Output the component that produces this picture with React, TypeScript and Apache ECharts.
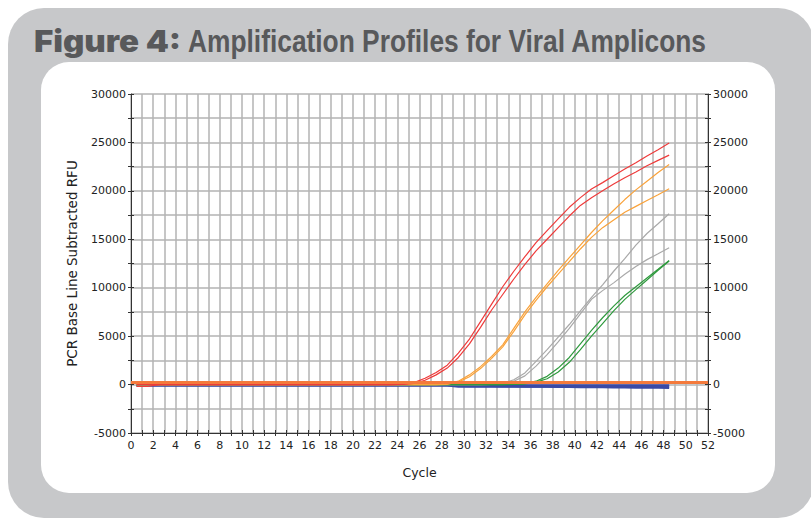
import React, { useEffect, useRef } from "react";
import * as echarts from "echarts";

// x positions of the readings (cycles)
const CYCLES = [
  0.5, 1.5, 2.5, 3.5, 4.5, 5.5, 6.5, 7.5, 8.5, 9.5,
  10.5, 11.5, 12.5, 13.5, 14.5, 15.5, 16.5, 17.5, 18.5, 19.5,
  20.5, 21.5, 22.5, 23.5, 24.5, 25.5, 26.5, 27.5, 28.5, 29.5,
  30.5, 31.5, 32.5, 33.5, 34.5, 35.5, 36.5, 37.5, 38.5, 39.5,
  40.5, 41.5, 42.5, 43.5, 44.5, 45.5, 46.5, 47.5, 48.5,
];

const RED_A = [
  -200, -200, 0, 0, 0, 0, 0, 0, 0, 0,
  0, 0, 0, 0, 0, 0, 0, 0, 0, 0,
  0, 0, 0, 0, 40, 200, 650, 1250, 2000, 3250,
  4700, 6500, 8300, 10100, 11700, 13200, 14650, 15900, 17100, 18300,
  19300, 20200, 20850, 21550, 22250, 22900, 23600, 24250, 24930,
];
const RED_B = [
  0, 0, 0, 0, 0, 0, 0, 0, 0, 0,
  0, 0, 0, 0, 0, 0, 0, 0, 0, 0,
  0, 0, 0, 0, 20, 120, 450, 1000, 1700, 2800,
  4200, 5900, 7700, 9300, 10900, 12400, 13800, 15000, 16200, 17400,
  18500, 19300, 20000, 20700, 21350, 21950, 22600, 23150, 23690,
];
const ORANGE_A = [
  0, 0, 0, 0, 0, 0, 0, 0, 0, 0,
  0, 0, 0, 0, 0, 0, 0, 0, 0, 0,
  0, 0, 0, 0, 0, 0, 0, 0, 50, 350,
  1000, 1850, 2900, 4100, 5800, 7500, 9000, 10400, 11800, 13100,
  14400, 15700, 16900, 18000, 19100, 20100, 21000, 21900, 22730,
];
const ORANGE_B = [
  0, 0, 0, 0, 0, 0, 0, 0, 0, 0,
  0, 0, 0, 0, 0, 0, 0, 0, 0, 0,
  0, 0, 0, 0, 0, 0, 0, 0, 30, 250,
  800, 1650, 2700, 3900, 5500, 7200, 8700, 10100, 11400, 12700,
  14000, 15200, 16200, 17000, 17800, 18400, 19000, 19600, 20220,
];
const GRAY_A = [
  0, 0, 0, 0, 0, 0, 0, 0, 0, 0,
  0, 0, 0, 0, 0, 0, 0, 0, 0, 0,
  0, 0, 0, 0, 0, 0, 0, 0, 0, 0,
  0, 0, 30, 150, 500, 1200, 2400, 3600, 4900, 6200,
  7600, 9000, 10300, 11700, 13000, 14400, 15600, 16600, 17630,
];
const GRAY_B = [
  0, 0, 0, 0, 0, 0, 0, 0, 0, 0,
  0, 0, 0, 0, 0, 0, 0, 0, 0, 0,
  0, 0, 0, 0, 0, 0, 0, 0, 0, 0,
  0, 0, 20, 100, 350, 900, 1900, 3100, 4400, 5800,
  7300, 8800, 9700, 10500, 11400, 12200, 12900, 13500, 14120,
];
const GREEN_A = [
  0, 0, 0, 0, 0, 0, 0, 0, 0, 0,
  0, 0, 0, 0, 0, 0, 0, 0, 0, 0,
  0, 0, 0, 0, 0, 0, 0, 0, 0, 0,
  0, 0, 0, 0, 20, 100, 350, 850, 1700, 2800,
  4200, 5600, 6900, 8100, 9200, 10100, 11000, 11900, 12810,
];
const GREEN_B = [
  0, 0, 0, 0, 0, 0, 0, 0, 0, 0,
  0, 0, 0, 0, 0, 0, 0, 0, 0, 0,
  0, 0, 0, 0, 0, 0, 0, 0, 0, 0,
  0, 0, 0, 0, 10, 60, 250, 600, 1300, 2300,
  3600, 5000, 6300, 7600, 8800, 9800, 10800, 11800, 12750,
];
const BLUE_A = [
  -60, -60, -60, -60, -60, -60, -60, -60, -60, -60,
  -60, -60, -60, -60, -60, -60, -60, -60, -60, -60,
  -60, -60, -60, -60, -60, -60, -60, -60, -60, -60,
  -60, -60, -60, -60, -60, -60, -60, -60, -60, -60,
  -60, -60, -60, -60, -60, -60, -60, -60, -60,
];
const BLUE_B = [
  -60, -60, -60, -60, -60, -60, -60, -60, -60, -60,
  -60, -60, -60, -60, -60, -60, -60, -60, -60, -60,
  -60, -60, -60, -60, -60, -60, -60, -60, -60, -120,
  -140, -150, -160, -170, -180, -190, -200, -210, -220, -230,
  -240, -250, -260, -270, -280, -290, -300, -310, -320,
];
const BLUE_C = [
  -60, -60, -60, -60, -60, -60, -60, -60, -60, -60,
  -60, -60, -60, -60, -60, -60, -60, -60, -60, -60,
  -60, -60, -60, -60, -60, -60, -60, -60, -60, -200,
  -200, -200, -200, -200, -200, -200, -200, -200, -200, -200,
  -200, -200, -200, -200, -200, -200, -200, -200, -200,
];
const THRESHOLD = 250;

const TITLE_A = "Figure 4:";
const TITLE_B = "Amplification Profiles for Viral Amplicons";
const X_NAME = "Cycle";
const Y_NAME = "PCR Base Line Subtracted RFU";

const FONT = "'DejaVu Sans', Verdana, sans-serif";

const pairs = (ys: number[]) => CYCLES.map((c, i) => [c, ys[i]]);

export default function App() {
  const ref = useRef<HTMLDivElement>(null);
  useEffect(() => {
    if (!ref.current) return;
    const chart = echarts.init(ref.current, null, { renderer: "svg" });
    const line = (name: string, ys: number[], color: string, width = 1.2) => ({
      name,
      type: "line",
      data: pairs(ys),
      showSymbol: false,
      symbol: "none",
      lineStyle: { color, width },
      itemStyle: { color },
      xAxisIndex: 0,
      yAxisIndex: 0,
      silent: true,
    });
    const axisLabelStyle = { color: "#222", fontSize: 11, fontFamily: FONT };
    const yLab = (v: number) => (v % 5000 === 0 ? String(v) : "");
    const xLab = (v: number) => (v % 2 === 0 ? String(v) : "");
    const gridLine = { show: true, lineStyle: { color: "#b3b3b3", width: 1.5 } };
    chart.setOption({
      animation: false,
      backgroundColor: "#ffffff",
      graphic: [
        {
          type: "rect",
          z: -10,
          silent: true,
          shape: { x: 8, y: 8, width: 806, height: 510, r: 36 },
          style: { fill: "#c7c8ca" },
        },
        {
          type: "rect",
          z: -9,
          silent: true,
          shape: { x: 41, y: 62, width: 734, height: 431, r: 28 },
          style: { fill: "#ffffff" },
        },
        {
          type: "text",
          x: 34,
          y: 41,
          scaleX: 1.1,
          silent: true,
          style: {
            text: TITLE_A,
            fill: "#58595b",
            font: "900 30px Inter, 'DejaVu Sans', sans-serif",
            verticalAlign: "middle",
          },
        },
        {
          type: "text",
          x: 188,
          y: 41,
          scaleX: 0.85,
          silent: true,
          style: {
            text: TITLE_B,
            fill: "#58595b",
            font: "bold 31px 'Liberation Sans', Arial, sans-serif",
            verticalAlign: "middle",
          },
        },
      ],
      grid: { left: 131, right: 103, top: 94, bottom: 85 },
      xAxis: [
        {
          type: "value",
          min: 0,
          max: 52,
          interval: 1,
          position: "bottom",
          axisLine: { onZero: false, lineStyle: { color: "#333", width: 1 } },
          axisTick: { length: 3, lineStyle: { color: "#333" } },
          axisLabel: { ...axisLabelStyle, formatter: xLab, margin: 7 },
          splitLine: gridLine,
          name: X_NAME,
          nameLocation: "middle",
          nameGap: 33,
          nameTextStyle: { color: "#222", fontSize: 12.5, fontFamily: FONT },
        },
        {
          type: "value",
          min: 0,
          max: 52,
          interval: 1,
          position: "bottom",
          axisLine: { show: false, onZero: false },
          axisTick: { inside: true, length: 3, lineStyle: { color: "#333" } },
          axisLabel: { show: false },
          splitLine: { show: false },
        },
      ],
      yAxis: [
        {
          type: "value",
          min: -5000,
          max: 30000,
          interval: 2500,
          position: "left",
          axisLine: { show: true, onZero: false, lineStyle: { color: "#333", width: 1 } },
          axisTick: { show: true, length: 3, lineStyle: { color: "#333" } },
          axisLabel: { ...axisLabelStyle, formatter: yLab, margin: 5 },
          splitLine: gridLine,
          name: Y_NAME,
          nameLocation: "middle",
          nameGap: 52,
          nameTextStyle: { color: "#222", fontSize: 13.5, fontFamily: FONT },
        },
        {
          type: "value",
          min: -5000,
          max: 30000,
          interval: 2500,
          position: "left",
          axisLine: { show: false, onZero: false },
          axisTick: { show: true, inside: true, length: 3, lineStyle: { color: "#333" } },
          axisLabel: { show: false },
          splitLine: { show: false },
        },
        {
          type: "value",
          min: -5000,
          max: 30000,
          interval: 2500,
          position: "right",
          axisLine: { show: true, onZero: false, lineStyle: { color: "#333", width: 1 } },
          axisTick: { show: true, length: 3, lineStyle: { color: "#333" } },
          axisLabel: { ...axisLabelStyle, formatter: yLab, margin: 5 },
          splitLine: { show: false },
        },
        {
          type: "value",
          min: -5000,
          max: 30000,
          interval: 2500,
          position: "right",
          axisLine: { show: false, onZero: false },
          axisTick: { show: true, inside: true, length: 3, lineStyle: { color: "#333" } },
          axisLabel: { show: false },
          splitLine: { show: false },
        },
      ],
      series: [
        line("Neg 1", BLUE_A, "#3a4aa6", 2),
        line("Neg 2", BLUE_B, "#3a4aa6", 2.5),
        line("Neg 3", BLUE_C, "#3a4aa6", 2.5),
        line("Gray A", GRAY_A, "#a9a9a9"),
        line("Gray B", GRAY_B, "#a9a9a9"),
        line("Green A", GREEN_A, "#2f9a3e"),
        line("Green B", GREEN_B, "#2f9a3e"),
        line("Orange A", ORANGE_A, "#f9a23a"),
        line("Orange B", ORANGE_B, "#f9a23a"),
        line("Red A", RED_A, "#ee3b3b"),
        line("Red B", RED_B, "#ee3b3b"),
        {
          name: "Threshold",
          type: "line",
          data: [],
          xAxisIndex: 0,
          yAxisIndex: 0,
          silent: true,
          markLine: {
            silent: true,
            symbol: "none",
            label: { show: false },
            lineStyle: { color: "#f47a3c", width: 3, type: "solid" },
            data: [{ yAxis: THRESHOLD }],
          },
        },
      ],
    });
    return () => chart.dispose();
  }, []);
  return (
    <div
      ref={ref}
      style={{ position: "fixed", left: 0, top: 0, width: 811, height: 518 }}
    />
  );
}
